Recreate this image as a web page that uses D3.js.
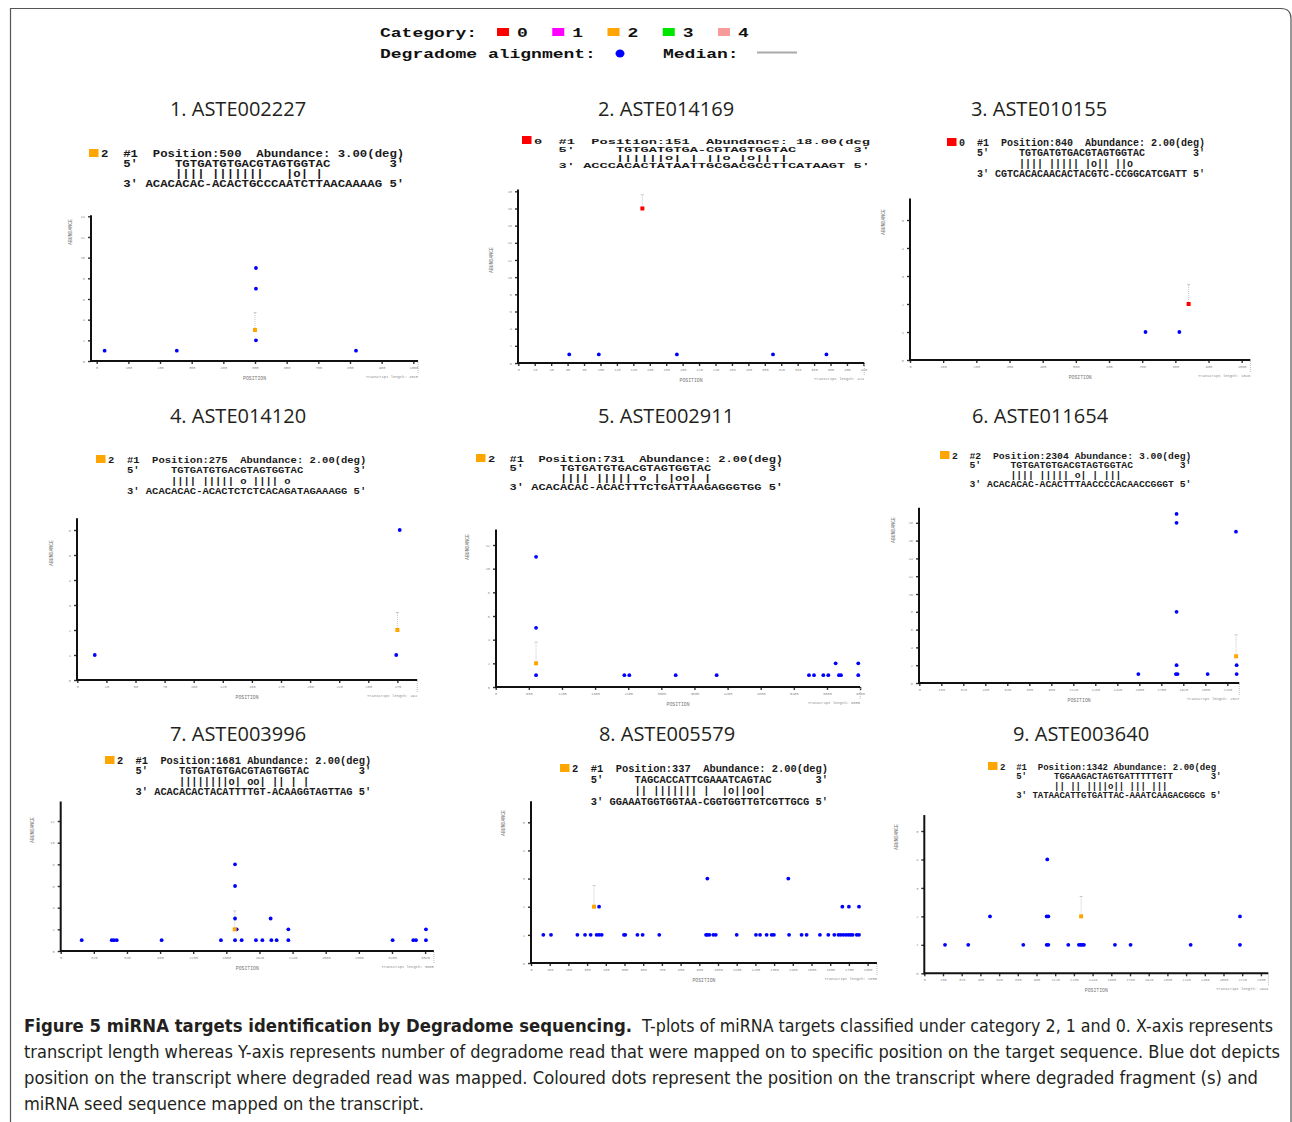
<!DOCTYPE html>
<html>
<head>
<meta charset="utf-8">
<script src="https://cdn.jsdelivr.net/npm/d3@7"></script>
<style>
  body { margin: 0; background: #fff; }
  svg { display: block; }
  text.mono { white-space: pre; }
</style>
</head>
<body>
<svg id="fig" width="1292" height="1122"></svg>
<script>

/************/
/*** DATA ***/
/************/

let catLabels = ["0", "1", "2", "3", "4"];
let catColors = ["#ff0000", "#ff00ff", "#ffa500", "#00e600", "#f79a9a"];

let titles = ["1. ASTE002227", "2. ASTE014169", "3. ASTE010155",
              "4. ASTE014120", "5. ASTE002911", "6. ASTE011654",
              "7. ASTE003996", "8. ASTE005579", "9. ASTE003640"];

// category, hit number, cleavage position + abundance of each target
let catClass    = [2, 0, 0, 2, 2, 2, 2, 2, 2];
let hitNo       = ["#1", "#1", "#1", "#1", "#1", "#2", "#1", "#1", "#1"];
let cleavePos   = [500, 151, 840, 275, 731, 2304, 1681, 337, 1342];
let cleaveAbund = [3, 18, 2, 2, 2, 3, 2, 2, 2];
let medianAbund = [4.7, 19.6, 2.7, 2.7, 3.8, 5.4, 3.7, 2.75, 2.7];
let lineEnd     = ["(deg)", "(deg", "(deg)", "(deg)", "(deg)", "(deg)", "(deg)", "(deg)", "(deg"];

let mirSeq = ["TGTGATGTGACGTAGTGGTAC", "TGTGATGTGA-CGTAGTGGTAC", "TGTGATGTGACGTAGTGGTAC",
              "TGTGATGTGACGTAGTGGTAC", "TGTGATGTGACGTAGTGGTAC", "TGTGATGTGACGTAGTGGTAC",
              "TGTGATGTGACGTAGTGGTAC", "TAGCACCATTCGAAATCAGTAC", "TGGAAGACTAGTGATTTTTGTT"];
let pairing = ["|||| |||||||   |o| |", "||||||o| | ||o |o|| |", "|||| ||||| |o|| ||o",
               "|||| ||||| o |||| o", "|||| ||||| o | |oo| |", "|||| ||||| o| | |||",
               "||||||||o| oo| || | |", "|| ||||||| |  |o||oo|", "|| || ||||o|| ||| |||"];
let targetSeq = ["ACACACAC-ACACTGCCCAATCTTAACAAAAG", "ACCCACACTATAATTGCGACGCCTTCATAAGT",
                 "CGTCACACAACACTACGTC-CCGGCATCGATT", "ACACACAC-ACACTCTCTCACAGATAGAAAGG",
                 "ACACACAC-ACACTTTCTGATTAAGAGGGTGG", "ACACACAC-ACACTTTAACCCCACAACCGGGT",
                 "ACACACACTACATTTTGT-ACAAGGTAGTTAG", "GGAAATGGTGGTAA-CGGTGGTTGTCGTTGCG",
                 "TATAACATTGTGATTAC-AAATCAAGACGGCG"];

// axes
let xTickStep     = [100, 20, 100, 25, 600, 160, 320, 100, 160];
let xTickMax      = [1000, 420, 1000, 275, 6600, 2240, 3520, 1800, 2880];
let transcriptLen = [1015, 421, 1026, 292, 6600, 2327, 3605, 1850, 2944];
let yTickStep     = [2, 2, 1, 1, 2, 2, 2, 1, 1];
let yTickMax      = [14, 20, 5, 6, 12, 18, 12, 5, 5];
let yAxisMax      = [14.1, 20.2, 5.77, 6.47, 13.3, 19.7, 13.8, 5.75, 5.56];

// degradome reads: [position, abundance]
let reads1 = [[25, 1], [253, 1], [503, 9], [503, 7], [503, 2], [819, 1]];
let reads2 = [[62, 1], [98, 1], [193, 1], [310, 1], [375, 1]];
let reads3 = [[710, 1], [812, 1]];
let reads4 = [[15, 1], [274, 1], [277, 6]];
let reads5 = [[731, 11], [731, 5], [731, 1], [2330, 1], [2420, 1], [3260, 1], [4002, 1],
              [5674, 1], [5765, 1], [5934, 1], [6024, 1], [6157, 2], [6217, 1], [6254, 1],
              [6567, 2], [6567, 1]];
let reads6 = [[1593, 1], [1871, 19], [1871, 18], [1871, 8], [1871, 2], [1866, 1], [1878, 1],
              [2097, 1], [2303, 17], [2308, 2], [2308, 1]];
let reads7 = [[203, 1], [493, 1], [515, 1], [541, 1], [975, 1], [1548, 1], [1684, 8], [1684, 6],
              [1684, 3], [1684, 1], [1700, 2], [1748, 1], [1886, 1], [1948, 1], [2028, 3],
              [2035, 1], [2086, 1], [2199, 2], [2199, 1], [3206, 1], [3406, 1], [3432, 1],
              [3528, 2], [3528, 1]];
let reads8 = [[66, 1], [107, 1], [248, 1], [289, 1], [319, 1], [351, 1], [364, 1], [378, 1],
              [497, 1], [504, 1], [569, 1], [597, 1], [686, 1], [936, 1], [943, 1], [954, 1],
              [975, 1], [988, 1], [1100, 1], [1203, 1], [1225, 1], [1260, 1], [1287, 1],
              [1299, 1], [1380, 1], [1447, 1], [1474, 1], [1545, 1], [1590, 1], [1622, 1],
              [1644, 1], [1656, 1], [1670, 1], [1684, 1], [1697, 1], [1709, 1], [1720, 1],
              [1742, 1], [1754, 1], [364, 2], [1665, 2], [1700, 2], [1754, 2], [943, 3], [1376, 3]];
let reads9 = [[177, 1], [376, 1], [847, 1], [1047, 1], [1061, 1], [1232, 1], [1323, 1], [1338, 1],
              [1352, 1], [1366, 1], [1631, 1], [1765, 1], [2279, 1], [2701, 1],
              [562, 2], [1047, 2], [1061, 2], [2701, 2], [1052, 4]];
let readsAll = [reads1, reads2, reads3, reads4, reads5, reads6, reads7, reads8, reads9];

let captionBold = "Figure 5 miRNA targets identification by Degradome sequencing.";
let captionLines = [
  "T-plots of miRNA targets classified under category 2, 1 and 0. X-axis represents",
  "transcript length whereas Y-axis represents number of degradome read that were mapped on to specific position on the target sequence. Blue dot depicts",
  "position on the transcript where degraded read was mapped. Coloured dots represent the position on the transcript where degraded fragment (s) and",
  "miRNA seed sequence mapped on the transcript."
];

/**************/
/*** LAYOUT ***/
/**************/

// title centre, alignment text block, plot frame (ax/ay = axes corner, x0/x1 = first/last x tick, y1 = last y tick)
let layout = [
  {tc: [238, 116],  tx: 101,  ty: 157, cw: 7.4,  lh: 10,   sy: 0.85, ax: 91,    ay: 361,   x0: 96.7,  x1: 413.3,  y1: 216.3, lab: [72, 232]},
  {tc: [666, 116],  tx: 534,  ty: 144, cw: 8.2,  lh: 8,    sy: 0.54, ax: 518,   ay: 363,   x0: 518.3, x1: 863.4,  y1: 191.3, lab: [493, 260]},
  {tc: [1039, 116], tx: 959,  ty: 146, cw: 6.0,  lh: 10.3, sy: 1.05, ax: 910,   ay: 360,   x0: 910,   x1: 1241.7, y1: 220,   lab: [885, 222]},
  {tc: [238, 423],  tx: 108,  ty: 463, cw: 6.3,  lh: 10.5, sy: 0.95, ax: 77,    ay: 680,   x0: 77.3,  x1: 397.4,  y1: 530,   lab: [53, 553]},
  {tc: [666, 423],  tx: 488,  ty: 462, cw: 7.2,  lh: 9.3,  sy: 0.8,  ax: 496,   ay: 687,   x0: 495.7, x1: 860.1,  y1: 545,   lab: [469, 547]},
  {tc: [1040, 423], tx: 952,  ty: 459, cw: 5.85, lh: 9.3,  sy: 0.85, ax: 919,   ay: 683,   x0: 919.3, x1: 1227.3, y1: 522.8, lab: [895, 530]},
  {tc: [238, 741],  tx: 117,  ty: 764, cw: 6.2,  lh: 10.3, sy: 1.0,  ax: 60.7,  ay: 951,   x0: 60.7,  x1: 425.1,  y1: 821,   lab: [34, 830]},
  {tc: [667, 741],  tx: 572,  ty: 772, cw: 6.25, lh: 11,   sy: 1.0,  ax: 531,   ay: 963,   x0: 531,   x1: 867.6,  y1: 822.3, lab: [505, 823]},
  {tc: [1081, 741], tx: 1000, ty: 770, cw: 5.4,  lh: 9.4,  sy: 1.0,  ax: 924.3, ay: 973.3, x0: 924.3, x1: 1260.9, y1: 831,   lab: [898, 837]}
];

let monoFont = "'Liberation Mono', 'DejaVu Sans Mono', monospace";
let sansFont = "'Open Sans', 'Noto Sans', sans-serif";
let narrowFont = "'Liberation Sans Narrow', 'DejaVu Sans Condensed', 'Open Sans', sans-serif";

let svg = d3.select("#fig");

/********************************/
/*** DECLARE HELPER FUNCTIONS ***/
/********************************/

function drawFrame() {
    svg.append("path")
        .attr("d", "M10.5,1122 V8.5 H1281 Q1291,8.5 1291,18.5 V1122")
        .attr("fill", "none")
        .attr("stroke", "#555")
        .attr("stroke-width", 1.2);
}

function drawLegend() {
    let lg = svg.append("g").attr("font-family", monoFont).attr("font-weight", "bold").attr("fill", "#111");
    let monoText = function(s, x, y) {
        lg.append("text").attr("class", "mono")
            .attr("transform", `translate(${x},${y}) scale(1,0.72)`)
            .attr("font-size", 18)
            .text(s);
    };
    monoText("Category:", 380, 37);
    let catX = d3.scaleLinear().domain([0, 4]).range([497, 718]);
    catLabels.forEach(function(c, i) {
        lg.append("rect").attr("x", catX(i)).attr("y", 28).attr("width", 12).attr("height", 8)
            .attr("fill", catColors[i]);
        monoText(c, catX(i) + 20, 37);
    });
    monoText("Degradome alignment:", 380, 58);
    lg.append("ellipse").attr("cx", 620).attr("cy", 53.5).attr("rx", 4.5).attr("ry", 4).attr("fill", "#0000ff");
    monoText("Median:", 663, 58);
    lg.append("line").attr("x1", 757).attr("x2", 797).attr("y1", 52.5).attr("y2", 52.5)
        .attr("stroke", "#aaa").attr("stroke-width", 2);
}

function drawPanel(i) {
    let L = layout[i];
    let g = svg.append("g").attr("class", "panel");

    // title
    g.append("text")
        .attr("x", L.tc[0]).attr("y", L.tc[1])
        .attr("text-anchor", "middle")
        .attr("font-family", sansFont)
        .attr("font-size", 20)
        .attr("fill", "#231f20")
        .text(titles[i]);

    // alignment block
    let lines = [
        catClass[i] + "  " + hitNo[i] + "  " + ("Position:" + cleavePos[i]).padEnd(13) + " Abundance: " +
            cleaveAbund[i].toFixed(2) + lineEnd[i],
        ("   5'     " + mirSeq[i]).padEnd(39) + "3'",
        "          " + pairing[i],
        "   3' " + targetSeq[i] + " 5'"
    ];
    g.append("rect")
        .attr("x", L.tx - 12).attr("y", L.ty - 8)
        .attr("width", 9.5).attr("height", 8)
        .attr("fill", catColors[catClass[i]]);
    let tg = g.append("g")
        .attr("transform", `translate(${L.tx},${L.ty}) scale(1,${L.sy})`)
        .attr("font-family", monoFont)
        .attr("font-weight", "bold")
        .attr("font-size", L.cw / 0.6)
        .attr("fill", "#1a1a1a");
    lines.forEach(function(s, k) {
        tg.append("text").attr("class", "mono")
            .attr("x", 0).attr("y", k * L.lh / L.sy)
            .text(s);
    });

    // scales
    let x = d3.scaleLinear().domain([0, xTickMax[i]]).range([L.x0, L.x1]),
        y = d3.scaleLinear().domain([0, yTickMax[i]]).range([L.ay, L.y1]);

    // ticks
    let gx = g.append("g").attr("transform", `translate(0,${L.ay})`)
        .call(d3.axisBottom(x)
            .tickValues(d3.range(0, xTickMax[i] + 1, xTickStep[i]))
            .tickSize(3).tickPadding(2).tickFormat(d3.format("d")));
    let gy = g.append("g").attr("transform", `translate(${L.ax},0)`)
        .call(d3.axisLeft(y)
            .tickValues(d3.range(0, yTickMax[i] + 1, yTickStep[i]))
            .tickSize(3).tickPadding(3).tickFormat(d3.format("d")));
    [gx, gy].forEach(function(a) {
        a.select(".domain").remove();
        a.selectAll(".tick line").attr("stroke", "#333").attr("stroke-width", 1.4);
        a.selectAll(".tick text").attr("font-size", 3.6).attr("fill", "#8a8a8a").attr("font-family", monoFont);
    });

    // axis lines
    g.append("line")
        .attr("x1", L.ax).attr("x2", L.ax)
        .attr("y1", L.ay + 1).attr("y2", y(yAxisMax[i]))
        .attr("stroke", "#111").attr("stroke-width", 2);
    g.append("line")
        .attr("x1", L.ax).attr("x2", x(transcriptLen[i]))
        .attr("y1", L.ay).attr("y2", L.ay)
        .attr("stroke", "#111").attr("stroke-width", 2);

    // transcript end marker
    g.append("line")
        .attr("x1", x(transcriptLen[i])).attr("x2", x(transcriptLen[i]))
        .attr("y1", L.ay + 1).attr("y2", L.ay + 13)
        .attr("stroke", "#bbb").attr("stroke-width", 1).attr("stroke-dasharray", "1,1");

    // axis titles
    g.append("text")
        .attr("transform", `translate(${L.lab[0]},${L.lab[1]}) rotate(-90)`)
        .attr("text-anchor", "middle")
        .attr("font-family", monoFont).attr("font-size", 4.8).attr("fill", "#777")
        .text("ABUNDANCE");
    g.append("text")
        .attr("x", (L.ax + x(transcriptLen[i])) / 2).attr("y", L.ay + 19)
        .attr("text-anchor", "middle")
        .attr("font-family", monoFont).attr("font-size", 4.8).attr("fill", "#777")
        .text("POSITION");
    g.append("text")
        .attr("x", x(transcriptLen[i])).attr("y", L.ay + 17)
        .attr("text-anchor", "end")
        .attr("font-family", monoFont).attr("font-size", 3.8).attr("fill", "#888")
        .text("Transcript length: " + transcriptLen[i]);

    // median line
    g.append("line")
        .attr("x1", x(cleavePos[i])).attr("x2", x(cleavePos[i]))
        .attr("y1", y(cleaveAbund[i])).attr("y2", y(medianAbund[i]))
        .attr("stroke", "#c8c8c8").attr("stroke-width", 1).attr("stroke-dasharray", "1,1");
    g.append("line")
        .attr("x1", x(cleavePos[i]) - 1.5).attr("x2", x(cleavePos[i]) + 1.5)
        .attr("y1", y(medianAbund[i])).attr("y2", y(medianAbund[i]))
        .attr("stroke", "#c8c8c8").attr("stroke-width", 1);

    // degradome reads
    g.append("g").selectAll("circle")
        .data(readsAll[i])
        .enter().append("circle")
        .attr("cx", function(d) { return x(d[0]); })
        .attr("cy", function(d) { return y(d[1]); })
        .attr("r", 1.9)
        .attr("fill", "#0000ff");

    // category (cleavage) point
    g.append("rect")
        .attr("x", x(cleavePos[i]) - 2).attr("y", y(cleaveAbund[i]) - 2)
        .attr("width", 4).attr("height", 4)
        .attr("fill", catColors[catClass[i]]);
}

function drawCaption() {
    let cg = svg.append("g").attr("font-family", narrowFont).attr("font-size", 17).attr("fill", "#231f20");
    cg.append("text").attr("x", 24).attr("y", 1032)
        .attr("font-weight", "bold")
        .attr("textLength", 608).attr("lengthAdjust", "spacingAndGlyphs")
        .text(captionBold);
    let capX = [642, 24, 24, 24],
        capW = [631, 1256, 1234, 400];
    captionLines.forEach(function(s, k) {
        cg.append("text")
            .attr("x", capX[k]).attr("y", 1032 + k * 26)
            .attr("textLength", capW[k]).attr("lengthAdjust", "spacingAndGlyphs")
            .text(s);
    });
}

/******************/
/*** INIT PLOTS ***/
/******************/

drawFrame();
drawLegend();
d3.range(9).forEach(drawPanel);
drawCaption();

</script>
</body>
</html>
